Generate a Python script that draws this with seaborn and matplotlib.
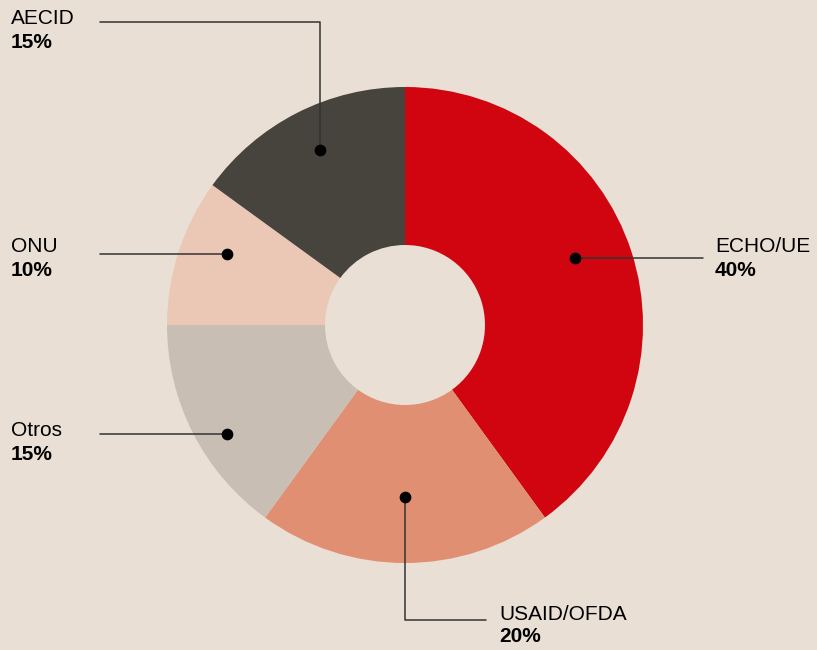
import numpy as np
import seaborn as sns
import matplotlib
matplotlib.use("Agg")
from matplotlib import pyplot as plt

# data
labels = ["ECHO/UE", "USAID/OFDA", "Otros", "ONU", "AECID"]
shares = [40, 20, 15, 10, 15]
colors = ["#D0050F", "#E08F72", "#C8BEB4", "#EAC8B5", "#47433D"]

bg = "#EADFD4"
sns.set_theme(style="white", rc={"figure.facecolor": bg, "axes.facecolor": bg})
plt.rcParams["font.family"] = ["Liberation Sans", "DejaVu Sans"]

W, H = 817, 650
fig = plt.figure(figsize=(W / 100, H / 100), dpi=100)
ax = fig.add_axes([0, 0, 1, 1])

cx, cy, r = 405, H - 325, 238
ax.pie(shares, colors=sns.color_palette(colors), startangle=90, counterclock=False,
       center=(cx, cy), radius=r, frame=True,
       wedgeprops=dict(width=r - 80, linewidth=0))
ax.set_xlim(0, W)
ax.set_ylim(0, H)
ax.set_aspect("equal")
ax.axis("off")

# leader lines (pixel coords, y from top)
def py(y):
    return H - y

line_kw = dict(color="#333333", lw=1.1, zorder=3)
dot_kw = dict(color="black", s=55, zorder=4)

# ECHO/UE
ax.plot([575, 703], [py(258), py(258)], **line_kw)
ax.scatter([575], [py(258)], **dot_kw)
# USAID/OFDA
ax.plot([405, 405, 486], [py(497), py(620), py(620)], **line_kw)
ax.scatter([405], [py(497)], **dot_kw)
# Otros
ax.plot([100, 227], [py(434), py(434)], **line_kw)
ax.scatter([227], [py(434)], **dot_kw)
# ONU
ax.plot([100, 227], [py(254), py(254)], **line_kw)
ax.scatter([227], [py(254)], **dot_kw)
# AECID
ax.plot([100, 320, 320], [py(22), py(22), py(150)], **line_kw)
ax.scatter([320], [py(150)], **dot_kw)

label_pos = {
    "ECHO/UE": (715, 247),
    "USAID/OFDA": (499, 614),
    "Otros": (11, 431),
    "ONU": (11, 247),
    "AECID": (11, 19),
}
for lab, val in zip(labels, shares):
    x, y = label_pos[lab]
    ax.text(x, py(y), lab, fontsize=15, color="black", va="center", ha="left")
    ax.text(x, py(y + 23), f"{val}%", fontsize=15, fontweight="bold",
            color="black", va="center", ha="left")

fig.savefig("out.png", dpi=100, facecolor=bg)
